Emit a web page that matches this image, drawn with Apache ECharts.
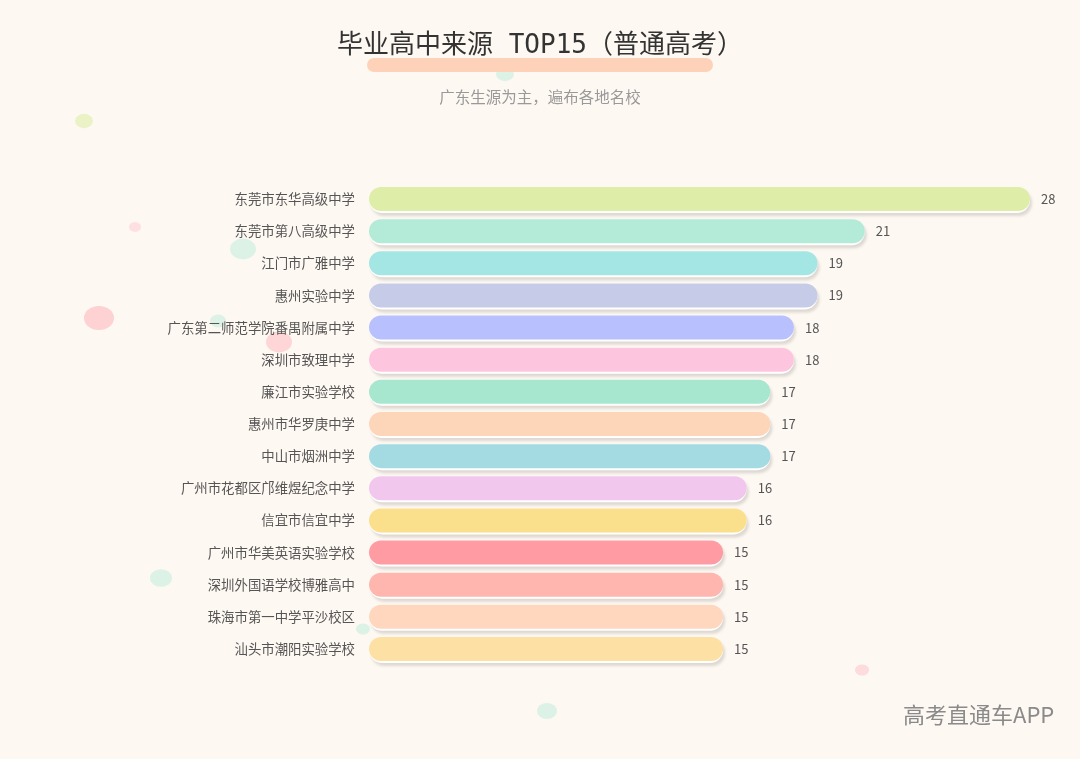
<!DOCTYPE html>
<html><head><meta charset="utf-8">
<script src="https://cdn.jsdelivr.net/npm/echarts@6/dist/echarts.min.js"></script>
<style>html,body{margin:0;padding:0;background:#FEF8F2;}#c{width:1080px;height:759px;}</style>
</head><body><div id="c"></div>
<script>
const schools = ['东莞市东华高级中学','东莞市第八高级中学','江门市广雅中学','惠州实验中学','广东第二师范学院番禺附属中学','深圳市致理中学','廉江市实验学校','惠州市华罗庚中学','中山市烟洲中学','广州市花都区邝维煜纪念中学','信宜市信宜中学','广州市华美英语实验学校','深圳外国语学校博雅高中','珠海市第一中学平沙校区','汕头市潮阳实验学校'];
const counts = [28,21,19,19,18,18,17,17,17,16,16,15,15,15,15];
const barColors = ['#DEEEA8','#B4EAD8','#A3E6E4','#C6CBE8','#B8C0FD','#FEC6DE','#A7E6CF','#FDD5B9','#A4DAE2','#F2C7EE','#FAE08C','#FE9BA3','#FEB6AE','#FED7BE','#FDE0A4'];
const dots = [
  [84,121,9,'rgba(222,238,168,0.6)'],[135,227,6,'rgba(254,198,210,0.5)'],[243,249,13,'rgba(180,234,216,0.45)'],
  [99,318,15,'rgba(254,170,180,0.5)'],[218,321,8,'rgba(180,234,216,0.45)'],[279,342,13,'rgba(254,180,190,0.5)'],
  [505,74,9,'rgba(180,234,216,0.45)'],[161,578,11,'rgba(180,234,216,0.45)'],[363,629,7,'rgba(180,234,216,0.45)'],
  [547,711,10,'rgba(180,234,216,0.45)'],[862,670,7,'rgba(254,190,200,0.5)']
];
const chart = echarts.init(document.getElementById('c'));
const graphics = dots.map(d => ({type:'circle', z:-1, shape:{cx:d[0],cy:d[1],r:d[2]}, scaleY:0.8, originX:d[0], originY:d[1], style:{fill:d[3]}, silent:true}));
graphics.push({type:'rect', z:-1, shape:{x:367,y:58,width:346,height:14,r:7}, style:{fill:'#FDD2B8'}});
graphics.push({type:'text', left:903, top:704, style:{text:'高考直通车APP', fill:'#8a8a8a', font:'22px "Noto Sans CJK SC"'}});
chart.setOption({
  backgroundColor:'#FEF8F2',
  title:{text:'毕业高中来源 TOP15（普通高考）', subtext:'广东生源为主，遍布各地名校', left:'center', top:28, itemGap:30,
    textStyle:{fontSize:26, color:'#333', fontWeight:'normal', fontFamily:'"DejaVu Sans Mono","Noto Sans CJK SC"'},
    subtextStyle:{fontSize:15.5, color:'#999', fontFamily:'"Noto Sans CJK SC"'}},
  graphic:graphics,
  grid:{left:369, right:50, top:183, bottom:94, containLabel:false},
  xAxis:{type:'value', min:0, max:28, show:false},
  yAxis:{type:'category', inverse:true, data:schools, axisLine:{show:false}, axisTick:{show:false},
    axisLabel:{color:'#555', fontSize:13.4, margin:14, fontFamily:'"Noto Sans CJK SC"'}},
  series:[
    {type:'bar', barWidth:26, z:1, silent:true, data:counts,
     itemStyle:{color:'#ffffff', borderRadius:13, shadowColor:'rgba(0,0,0,0.13)', shadowBlur:3, shadowOffsetX:2, shadowOffsetY:3}},
    {type:'bar', barWidth:24, barGap:'-100%', z:2, data:counts.map((v,i)=>({value:v, itemStyle:{color:barColors[i]}})),
     itemStyle:{borderRadius:12},
     label:{show:true, position:'right', distance:11, color:'#555', fontSize:13, fontFamily:'"Noto Sans CJK SC"'}}
  ]
});
</script></body></html>
